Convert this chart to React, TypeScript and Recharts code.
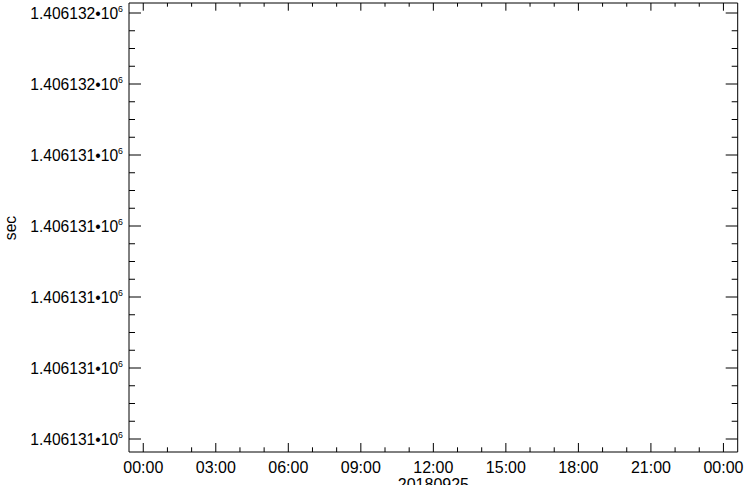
import { ComposedChart, XAxis, YAxis, Scatter } from "recharts";

// hours of day 20180925 (00:00 .. next 00:00)
const X_MAJOR_TICKS = [0, 3, 6, 9, 12, 15, 18, 21, 24];
const X_TICK_LABELS = ["00:00", "03:00", "06:00", "09:00", "12:00", "15:00", "18:00", "21:00", "00:00"];
const X_MINOR_PER_MAJOR = 3;

// sec values (labels only show 7 significant digits)
const Y_MAJOR_TICKS = [1406130.6, 1406130.8, 1406131.0, 1406131.2, 1406131.4, 1406131.6, 1406131.8];
const Y_MINOR_PER_MAJOR = 4;

const X_DOMAIN = [-0.59, 24.59];
const Y_DOMAIN = [1406130.5634, 1406131.8282];

// empty plot, no samples
const points: { t: number; sec: number }[] = [];

const FONT = '"Liberation Sans", Arial, Helvetica, sans-serif';

const withMinor = (major: number[], n: number) => {
  const out: number[] = [];
  for (let i = 0; i < major.length - 1; i++) {
    const step = (major[i + 1] - major[i]) / n;
    for (let k = 0; k < n; k++) out.push(major[i] + step * k);
  }
  out.push(major[major.length - 1]);
  return out;
};

const xTicks = withMinor(X_MAJOR_TICKS, X_MINOR_PER_MAJOR);
const yTicks = withMinor(Y_MAJOR_TICKS, Y_MINOR_PER_MAJOR);

const isMajor = (list: number[], v: number) => list.some((m) => Math.abs(m - v) < 1e-6);

const XTick = ({ x, y, payload, top }: any) => {
  const major = isMajor(X_MAJOR_TICKS, payload.value);
  const len = top ? (major ? 7.7 : 3.7) : major ? 9 : 4.7;
  const idx = X_MAJOR_TICKS.findIndex((m) => Math.abs(m - payload.value) < 1e-6);
  return (
    <g>
      <line x1={x} x2={x} y1={y} y2={top ? y + len : y - len} stroke="#000" strokeWidth={1} />
      {!top && major && (
        <text x={x} y={y + 20.7} textAnchor="middle" fontSize={16} fontFamily={FONT} fill="#000">
          {X_TICK_LABELS[idx]}
        </text>
      )}
    </g>
  );
};

const YTick = ({ x, y, payload, right }: any) => {
  const major = isMajor(Y_MAJOR_TICKS, payload.value);
  const len = major ? 12 : 6;
  return (
    <g>
      <line x1={x} x2={right ? x - len : x + len} y1={y} y2={y} stroke="#000" strokeWidth={1} />
      {!right && major && (
        <text x={x - 6} y={y + 5.7} textAnchor="end" fontSize={15.6} fontFamily={FONT} fill="#000">
          <tspan>{(payload.value / 1e6).toFixed(6)}•10</tspan>
          <tspan dy={-7.2} fontSize={8.8}>6</tspan>
        </text>
      )}
    </g>
  );
};

export default function App() {
  return (
    <div style={{ position: "absolute", left: 0, top: 0, background: "#fff" }}>
      <ComposedChart
        width={746}
        height={485}
        data={points}
        margin={{ top: 2, right: 7.3, bottom: 0, left: 0 }}
      >
        <XAxis
          xAxisId="bottom"
          dataKey="t"
          type="number"
          domain={X_DOMAIN}
          allowDataOverflow
          ticks={xTicks}
          interval={0}
          height={33}
          tickSize={0}
          tickMargin={0}
          axisLine={{ stroke: "#000", strokeWidth: 1 }}
          tickLine={false}
          tick={<XTick />}
        />
        <XAxis
          xAxisId="top"
          orientation="top"
          dataKey="t"
          type="number"
          domain={X_DOMAIN}
          allowDataOverflow
          ticks={xTicks}
          interval={0}
          height={1}
          tickSize={0}
          tickMargin={0}
          axisLine={{ stroke: "#000", strokeWidth: 1 }}
          tickLine={false}
          tick={<XTick top />}
        />
        <YAxis
          yAxisId="left"
          dataKey="sec"
          type="number"
          domain={Y_DOMAIN}
          allowDataOverflow
          ticks={yTicks}
          interval={0}
          width={129}
          tickSize={0}
          tickMargin={0}
          axisLine={{ stroke: "#000", strokeWidth: 1 }}
          tickLine={false}
          tick={<YTick />}
        />
        <YAxis
          yAxisId="right"
          orientation="right"
          dataKey="sec"
          type="number"
          domain={Y_DOMAIN}
          allowDataOverflow
          ticks={yTicks}
          interval={0}
          width={1}
          tickSize={0}
          tickMargin={0}
          axisLine={{ stroke: "#000", strokeWidth: 1 }}
          tickLine={false}
          tick={<YTick right />}
        />
        <Scatter xAxisId="bottom" yAxisId="left" data={points} dataKey="sec" isAnimationActive={false} />
        <Scatter xAxisId="top" yAxisId="right" data={points} dataKey="sec" isAnimationActive={false} />
        <text x={433.4} y={489.5} textAnchor="middle" fontSize={16} fontFamily={FONT} fill="#000">
          20180925
        </text>
        <text
          x={15.5}
          y={228}
          transform="rotate(-90 15.5 228)"
          textAnchor="middle"
          fontSize={15.6}
          fontFamily={FONT}
          fill="#000"
        >
          sec
        </text>
      </ComposedChart>
    </div>
  );
}
